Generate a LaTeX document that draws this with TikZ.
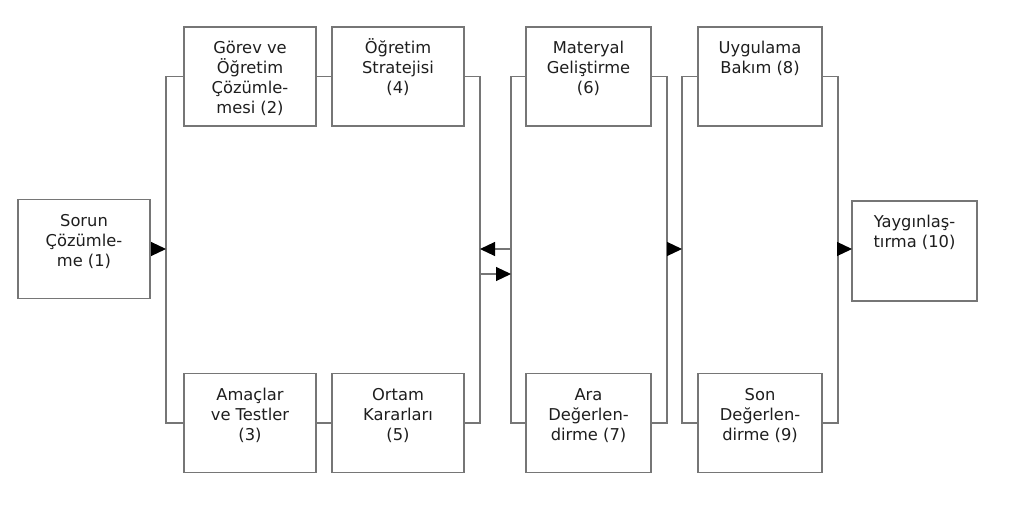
\documentclass[tikz,border=0pt]{standalone}
\usepackage{fontspec}
\setmainfont{DejaVu Sans}
\usetikzlibrary{arrows.meta}
\definecolor{linegray}{RGB}{118,118,118}
\definecolor{textgray}{RGB}{30,30,30}
\tikzset{
  box/.style={draw=linegray, line width=1.1pt, inner sep=0pt, minimum height=99pt},
  txt/.style={anchor=north, align=center, inner sep=0pt, text=textgray,
              font=\fontsize{16.3}{20}\selectfont},
  conn/.style={draw=linegray, line width=1.1pt},
  arr/.style={conn, -{Triangle[length=15pt,width=14pt,color=black,fill=black]}},
}
\newcommand{\tl}{\rule{0pt}{16pt}}
\begin{document}
\begin{tikzpicture}[x=1pt,y=1pt]
\useasboundingbox[fill=white] (0,0) rectangle (1024,-516);
% boxes
\node[box, minimum width=132pt] (b1) at (84,-249) {};
\node[box, minimum width=132pt] (b2) at (250,-76.5) {};
\node[box, minimum width=132pt] (b3) at (250,-423) {};
\node[box, minimum width=132pt] (b4) at (398,-76.5) {};
\node[box, minimum width=132pt] (b5) at (398,-423) {};
\node[box, minimum width=125pt] (b6) at (588.5,-76.5) {};
\node[box, minimum width=125pt] (b7) at (588.5,-423) {};
\node[box, minimum width=124pt] (b8) at (760,-76.5) {};
\node[box, minimum width=124pt] (b9) at (760,-423) {};
\node[box, minimum width=125pt, minimum height=100pt] (b10) at (914.5,-251) {};
% texts
\node[txt] (t1) at ([yshift=-11pt]b1.north) {\tl Sorun\\Çözümle-\\me (1)};
\node[txt] (t2) at ([yshift=-11pt]b2.north) {\tl Görev ve\\Öğretim\\Çözümle-\\mesi (2)};
\node[txt] (t3) at ([yshift=-11pt]b3.north) {\tl Amaçlar\\ve Testler\\(3)};
\node[txt] (t4) at ([yshift=-11pt]b4.north) {\tl Öğretim\\Stratejisi\\(4)};
\node[txt] (t5) at ([yshift=-11pt]b5.north) {\tl Ortam\\Kararları\\(5)};
\node[txt] (t6) at ([yshift=-11pt]b6.north) {\tl Materyal\\Geliştirme\\(6)};
\node[txt] (t7) at ([yshift=-11pt]b7.north) {\tl Ara\\Değerlen-\\dirme (7)};
\node[txt] (t8) at ([yshift=-11pt]b8.north) {\tl Uygulama\\Bakım (8)};
\node[txt] (t9) at ([yshift=-11pt]b9.north) {\tl Son\\Değerlen-\\dirme (9)};
\node[txt] (t10) at ([yshift=-11pt]b10.north) {\tl Yaygınlaş-\\tırma (10)};
% bracket x positions
\coordinate (xA) at (166,0);
\coordinate (xB) at (480,0);
\coordinate (xC) at (511,0);
\coordinate (xD) at (667,0);
\coordinate (xE) at (682,0);
\coordinate (xF) at (838,0);
\coordinate (pL) at (511,-249);
\coordinate (qL) at (480,-274);
\coordinate (rL) at (838,-249);
\coordinate (sL) at (852,-249);
% group A
\draw[conn] (b2.west) -- (b2.west -| xA) |- (b3.west);
\draw[conn] (b2.east) -- (b4.west);
\draw[conn] (b3.east) -- (b5.west);
\draw[conn] (b4.east) -- (b4.east -| xB) |- (b5.east);
% group B
\draw[conn] (b6.west) -- (b6.west -| xC) |- (b7.west);
\draw[conn] (b6.east) -- (b6.east -| xD) |- (b7.east);
% group C
\draw[conn] (b8.west) -- (b8.west -| xE) |- (b9.west);
\draw[conn] (b8.east) -- (b8.east -| xF) |- (b9.east);
% arrows
\draw[arr] (b1.east) -- (b1.east -| xA);
\draw[arr] (pL) -- (pL -| xB);
\draw[arr] (qL) -- (qL -| xC);
\draw[arr] (pL -| xD) -- (pL -| xE);
\draw[arr] (rL) -- (sL);
\end{tikzpicture}
\end{document}
